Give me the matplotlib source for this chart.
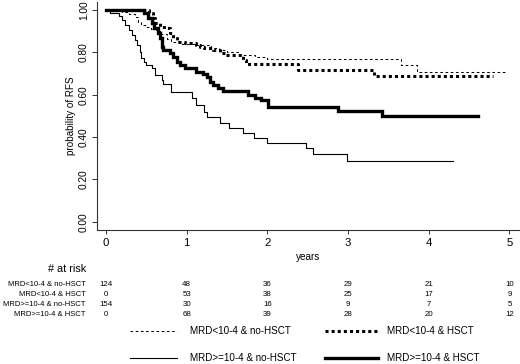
import matplotlib
matplotlib.use('Agg')
import matplotlib.pyplot as plt
from matplotlib.lines import Line2D
from matplotlib.transforms import blended_transform_factory

plt.rcParams['font.family'] = ['Liberation Sans', 'DejaVu Sans']

# ---- data ----
groups = ["MRD<10-4 & no-HSCT", "MRD<10-4 & HSCT",
          "MRD>=10-4 & no-HSCT", "MRD>=10-4 & HSCT"]

# MRD<10-4 & no-HSCT (thin dashed)
t_lo_nohsct = [0, 0.20, 0.28, 0.36, 0.40, 0.44, 0.50, 0.56, 0.62, 0.68, 0.75,
               0.81, 0.94, 1.10, 1.30, 1.40, 1.50, 1.65, 1.85, 2.00, 3.66, 3.85, 4.97]
s_lo_nohsct = [1.0, 0.99, 0.98, 0.965, 0.945, 0.93, 0.92, 0.91, 0.90, 0.885, 0.865,
               0.85, 0.84, 0.833, 0.82, 0.81, 0.80, 0.79, 0.78, 0.77, 0.74, 0.708, 0.708]

# MRD<10-4 & HSCT (thick dotted)
t_lo_hsct = [0, 0.535, 0.586, 0.607, 0.669, 0.752, 0.793, 0.834, 0.876, 0.979,
             1.12, 1.16, 1.22, 1.33, 1.41, 1.49, 1.70, 1.74, 2.38, 3.32, 4.79]
s_lo_hsct = [1.0, 0.984, 0.961, 0.937, 0.921, 0.913, 0.89, 0.866, 0.85, 0.843,
             0.835, 0.827, 0.819, 0.811, 0.795, 0.787, 0.764, 0.745, 0.715, 0.687, 0.687]

# MRD>=10-4 & no-HSCT (thin solid)
t_hi_nohsct = [0, 0.05, 0.16, 0.20, 0.24, 0.28, 0.32, 0.36, 0.39, 0.42, 0.44, 0.47,
               0.50, 0.57, 0.61, 0.69, 0.71, 0.81, 1.06, 1.12, 1.21, 1.25, 1.41,
               1.52, 1.70, 1.83, 1.99, 2.48, 2.57, 2.99, 4.30]
s_hi_nohsct = [1.0, 0.987, 0.97, 0.955, 0.93, 0.906, 0.882, 0.858, 0.835, 0.803, 0.772,
               0.756, 0.740, 0.725, 0.693, 0.669, 0.650, 0.614, 0.583, 0.551, 0.52,
               0.496, 0.465, 0.441, 0.418, 0.394, 0.370, 0.347, 0.32, 0.287, 0.287]

# MRD>=10-4 & HSCT (thick solid)
t_hi_hsct = [0, 0.47, 0.52, 0.57, 0.60, 0.645, 0.669, 0.69, 0.71, 0.793, 0.834,
             0.876, 0.917, 0.979, 1.12, 1.20, 1.25, 1.29, 1.33, 1.39, 1.45, 1.76,
             1.85, 1.92, 2.01, 2.88, 3.42, 4.61]
s_hi_hsct = [1.0, 0.984, 0.961, 0.937, 0.914, 0.890, 0.866, 0.827, 0.811, 0.795, 0.78,
             0.756, 0.74, 0.725, 0.709, 0.70, 0.685, 0.66, 0.645, 0.63, 0.62, 0.598,
             0.583, 0.575, 0.543, 0.523, 0.50, 0.50]

risk_times = [0, 1, 2, 3, 4, 5]
risk_lo_nohsct = [124, 48, 36, 29, 21, 10]
risk_lo_hsct = [0, 53, 38, 25, 17, 9]
risk_hi_nohsct = [154, 30, 16, 9, 7, 5]
risk_hi_hsct = [0, 68, 39, 28, 20, 12]

x_ticks = [0, 1, 2, 3, 4, 5]
y_ticks = [0.0, 0.2, 0.4, 0.6, 0.8, 1.0]
y_ticklabels = ["0.00", "0.20", "0.40", "0.60", "0.80", "1.00"]

# ---- figure ----
W, H = 520, 364
fig = plt.figure(figsize=(W / 100, H / 100), dpi=100)
fx = lambda px: px / W
fy = lambda py: 1 - py / H

ax_left, ax_right = 96.7, 519.0
ax_bottom, ax_top = 230.2, 1.6
ax = fig.add_axes([fx(ax_left), fy(ax_bottom), (ax_right - ax_left) / W, (ax_bottom - ax_top) / H])
ax.set_xlim(-0.115, 5.118)
ax.set_ylim(-0.04, 1.04)

styles = [
    dict(lw=0.75, dashes=(2.5, 2.5), dash_capstyle='butt'),
    dict(lw=2.2, dashes=(1, 1), dash_capstyle='butt'),
    dict(lw=0.8, linestyle='-'),
    dict(lw=2.4, linestyle='-', solid_joinstyle='miter'),
]
curves = [(t_lo_nohsct, s_lo_nohsct), (t_lo_hsct, s_lo_hsct),
          (t_hi_nohsct, s_hi_nohsct), (t_hi_hsct, s_hi_hsct)]
for (t, s), st in zip(curves, styles):
    ax.step(t, s, where='post', color='black', **st)

for side in ['top', 'right']:
    ax.spines[side].set_visible(False)
for side in ['left', 'bottom']:
    ax.spines[side].set_color('#333333')
    ax.spines[side].set_linewidth(0.8)

ax.set_xticks(x_ticks)
ax.set_xticklabels([str(v) for v in x_ticks], fontsize=8.2)
ax.set_yticks(y_ticks)
ax.set_yticklabels(y_ticklabels, fontsize=7.3, rotation=90, va='center')
ax.tick_params(axis='x', length=3.2, width=0.7, color='#333333', pad=2.5)
ax.tick_params(axis='y', length=3.6, width=0.7, color='#333333', pad=2.0)
ax.set_ylabel("probability of RFS", fontsize=7.1, labelpad=2)

trans = blended_transform_factory(ax.transData, fig.transFigure)
ax.text(2.5, fy(257.3), "years", transform=trans, ha='center', va='center', fontsize=7.2)

fig.text(fx(86), fy(269.3), "# at risk", ha='right', va='center', fontsize=7.8)
row_y = [285, 294.7, 304.3, 314]
risks = [risk_lo_nohsct, risk_lo_hsct, risk_hi_nohsct, risk_hi_hsct]
for name, ry, vals in zip(groups, row_y, risks):
    fig.text(fx(85.7), fy(ry), name, ha='right', va='center', fontsize=5.5)
    for tt, v in zip(risk_times, vals):
        ax.text(tt, fy(ry), str(v), transform=trans, ha='center', va='center', fontsize=5.7)

# legend (manual, two columns)
leg_pos = [(130, 176.7, 190, 331), (325, 378.3, 386.7, 331),
           (130, 176.7, 190, 358), (325, 378.3, 386.7, 358)]
for name, st, (x0, x1, xt, yy) in zip(groups, styles, leg_pos):
    ln = Line2D([fx(x0), fx(x1)], [fy(yy), fy(yy)], transform=fig.transFigure, color='black', **st)
    fig.add_artist(ln)
    fig.text(fx(xt), fy(yy), name, ha='left', va='center', fontsize=7.1)

fig.savefig("out.png", dpi=100)
